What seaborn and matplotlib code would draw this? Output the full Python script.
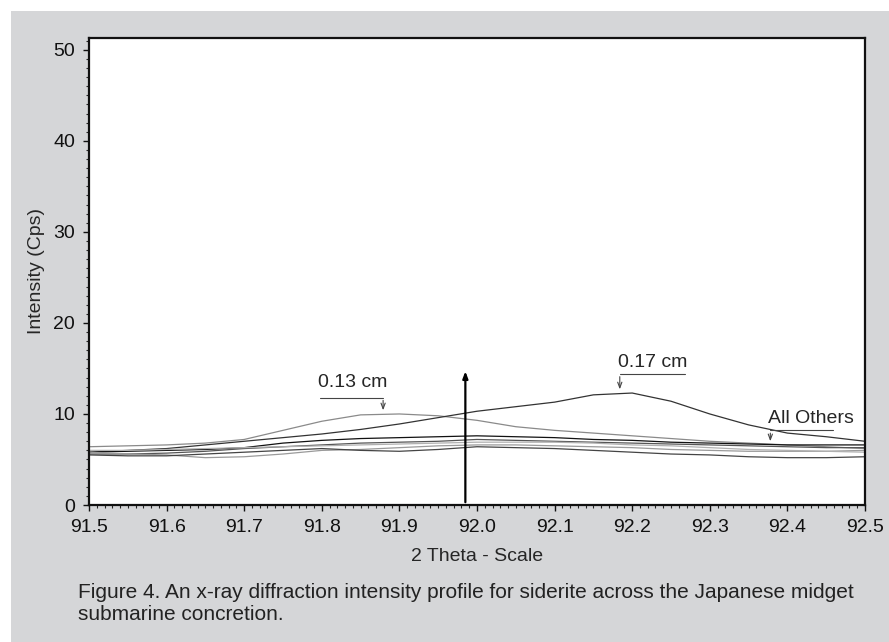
import matplotlib
matplotlib.use("Agg")
import matplotlib.pyplot as plt
from matplotlib.patches import Rectangle
from matplotlib.ticker import MultipleLocator
import seaborn as sns
import pandas as pd

# 2-theta positions
two_theta = [91.50, 91.55, 91.60, 91.65, 91.70, 91.75, 91.80, 91.85, 91.90, 91.95,
             92.00, 92.05, 92.10, 92.15, 92.20, 92.25, 92.30, 92.35, 92.40, 92.45, 92.50]

# intensity profiles (Cps)
depth_013 = [6.4, 6.5, 6.6, 6.8, 7.2, 8.2, 9.2, 9.9, 10.0, 9.8,
             9.3, 8.6, 8.2, 7.9, 7.6, 7.3, 7.0, 6.8, 6.6, 6.4, 6.2]
depth_017 = [5.8, 6.0, 6.2, 6.6, 7.0, 7.4, 7.8, 8.3, 8.9, 9.6,
             10.3, 10.8, 11.3, 12.1, 12.3, 11.4, 10.0, 8.8, 7.9, 7.5, 7.0]
other_a = [5.8, 5.9, 6.0, 6.1, 6.3, 6.8, 7.1, 7.3, 7.4, 7.5,
           7.6, 7.5, 7.4, 7.2, 7.1, 6.9, 6.8, 6.7, 6.6, 6.6, 6.6]
other_b = [5.6, 5.6, 5.7, 5.9, 6.2, 6.4, 6.6, 6.8, 6.9, 7.0,
           7.2, 7.1, 7.0, 6.9, 6.8, 6.7, 6.6, 6.5, 6.4, 6.3, 6.3]
other_c = [5.8, 5.6, 5.5, 5.2, 5.3, 5.6, 6.0, 6.1, 6.3, 6.5,
           6.6, 6.6, 6.5, 6.4, 6.3, 6.1, 6.0, 5.9, 5.9, 5.9, 6.0]
other_d = [5.5, 5.4, 5.4, 5.6, 5.8, 6.0, 6.2, 6.0, 5.9, 6.1,
           6.4, 6.3, 6.2, 6.0, 5.8, 5.6, 5.5, 5.3, 5.2, 5.2, 5.3]
other_e = [6.0, 6.0, 6.1, 6.2, 6.3, 6.4, 6.5, 6.6, 6.7, 6.8,
           6.9, 6.9, 6.9, 6.8, 6.6, 6.5, 6.3, 6.1, 6.0, 5.9, 5.8]

series = {
    "0.13 cm": depth_013,
    "0.17 cm": depth_017,
    "a": other_a,
    "b": other_b,
    "c": other_c,
    "d": other_d,
    "e": other_e,
}
line_colors = ["#8a8a8a", "#333333", "#111111", "#555555", "#9a9a9a", "#444444", "#b0b0b0"]

df = pd.concat(
    [pd.DataFrame({"theta": two_theta, "cps": v, "sample": k}) for k, v in series.items()],
    ignore_index=True,
)

sns.set_style("ticks")
plt.rcParams["font.family"] = ["Liberation Sans", "DejaVu Sans"]

fig = plt.figure(figsize=(8.89, 6.42), dpi=100, facecolor="white")
fig.patches.append(Rectangle((11 / 889, 0), 1, 1 - 11 / 642, transform=fig.transFigure,
                             facecolor="#d5d6d8", edgecolor="none", zorder=-10))
ax = fig.add_axes([89 / 889, 137 / 642, 776 / 889, 467 / 642])
ax.set_facecolor("white")

sns.lineplot(data=df, x="theta", y="cps", hue="sample", palette=line_colors,
             linewidth=0.9, legend=False, ax=ax)

ax.set_xlim(91.5, 92.5)
ax.set_ylim(0, 51.3)
ax.xaxis.set_major_locator(MultipleLocator(0.1))
ax.xaxis.set_minor_locator(MultipleLocator(0.01))
ax.yaxis.set_major_locator(MultipleLocator(10))
ax.yaxis.set_minor_locator(MultipleLocator(1))
ax.set_xticklabels([f"{t:.1f}" for t in ax.get_xticks()])
ax.tick_params(which="major", length=4, width=1, labelsize=14, pad=6, colors="#111111")
ax.tick_params(which="minor", length=2, width=0.8)
for s in ax.spines.values():
    s.set_linewidth(1.6)
    s.set_color("#111111")

ax.set_xlabel("2 Theta - Scale", fontsize=14, labelpad=9)
ax.set_ylabel("Intensity (Cps)", fontsize=14, labelpad=6)

# vertical marker arrow
ax.annotate("", xy=(91.985, 15.0), xytext=(91.985, 0),
            arrowprops=dict(arrowstyle="-|>,head_length=0.4,head_width=0.15", lw=1.6, color="black"))

# labels with leader arrows
ax.text(91.84, 13.5, "0.13 cm", fontsize=14, ha="center", va="center")
ax.plot([91.798, 91.879], [11.8, 11.8], color="#444444", lw=0.8)
ax.annotate("", xy=(91.879, 10.1), xytext=(91.879, 11.8),
            arrowprops=dict(arrowstyle="->,head_length=0.4,head_width=0.15", lw=0.8, color="#444444"))

ax.text(92.226, 15.7, "0.17 cm", fontsize=14, ha="center", va="center")
ax.plot([92.184, 92.268], [14.4, 14.4], color="#444444", lw=0.8)
ax.annotate("", xy=(92.184, 12.4), xytext=(92.184, 14.4),
            arrowprops=dict(arrowstyle="->,head_length=0.4,head_width=0.15", lw=0.8, color="#444444"))

ax.text(92.43, 9.5, "All Others", fontsize=14, ha="center", va="center")
ax.plot([92.378, 92.459], [8.2, 8.2], color="#444444", lw=0.8)
ax.annotate("", xy=(92.378, 6.7), xytext=(92.378, 8.2),
            arrowprops=dict(arrowstyle="->,head_length=0.4,head_width=0.15", lw=0.8, color="#444444"))

fig.text(78 / 889, 1 - 604 / 642,
         "Figure 4. An x-ray diffraction intensity profile for siderite across the Japanese midget\nsubmarine concretion.",
         fontsize=15, color="#222222", ha="left", va="center", linespacing=1.2)

fig.savefig("out.png", dpi=100, facecolor=fig.get_facecolor())
